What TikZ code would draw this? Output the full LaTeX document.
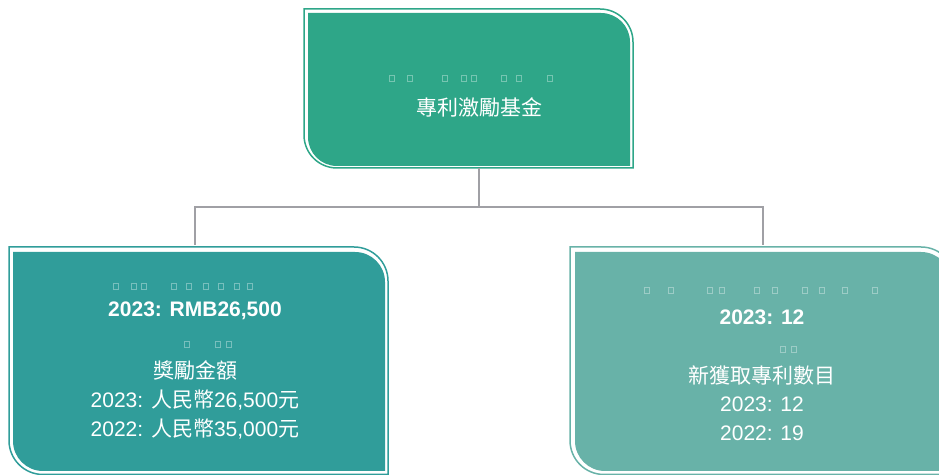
\documentclass[tikz,border=0pt]{standalone}
\usepackage{fontspec}
\setmainfont{Liberation Sans}
\newfontfamily\cjk{Noto Sans CJK TC}
\definecolor{topc}{HTML}{2EA688}
\definecolor{leftc}{HTML}{309D9A}
\definecolor{rightc}{HTML}{68B2A8}
\definecolor{connc}{HTML}{A0A0A5}
\begin{document}
\begin{tikzpicture}[x=1bp,y=1bp,
  outl/.style={line width=1.5bp},
  conn/.style={draw=connc, line width=2.7bp},
  txt/.style={text=white, font=\fontsize{21bp}{24bp}\selectfont, inner sep=0pt, anchor=center},
  btxt/.style={text=white, font=\fontsize{21bp}{24bp}\selectfont\bfseries, inner sep=0pt, anchor=center},
  tofu/.style={draw=white, draw opacity=0.35, line width=0.75bp}]
\useasboundingbox (0,0) rectangle (939,475);
% top box
\draw[outl, draw=topc] (304,466) -- (600,466) arc[start angle=90,end angle=0,radius=33] -- (633,307) -- (337,307) arc[start angle=270,end angle=180,radius=33] -- cycle;
\fill[topc] (308,462) -- (601,462) arc[start angle=90,end angle=0,radius=29] -- (630,309) -- (337,309) arc[start angle=270,end angle=180,radius=29] -- cycle;
% left box
\draw[outl, draw=leftc] (9,228) -- (354,228) arc[start angle=90,end angle=0,radius=34] -- (388,0.5) -- (43,0.5) arc[start angle=270,end angle=180,radius=34] -- cycle;
\fill[leftc] (13,223) -- (355,223) arc[start angle=90,end angle=0,radius=30] -- (385,4) -- (43,4) arc[start angle=270,end angle=180,radius=30] -- cycle;
% right box
\draw[outl, draw=rightc] (570,228) -- (921,228) arc[start angle=90,end angle=0,radius=34] -- (955,0.5) -- (604,0.5) arc[start angle=270,end angle=180,radius=34] -- cycle;
\fill[rightc] (575,223) -- (921,223) arc[start angle=90,end angle=0,radius=30] -- (951,4) -- (605,4) arc[start angle=270,end angle=180,radius=30] -- cycle;
% connectors
\coordinate (topb) at (479,307);
\coordinate (lefttop) at (195,230);
\coordinate (righttop) at (763,230);
\draw[conn] (topb) -- ++(0,-39) -| (lefttop);
\draw[conn] (topb) -- ++(0,-39) -| (righttop);
% faint missing-glyph boxes
\foreach \x in {392,410,445,464,474,504,519,550} \draw[tofu] ({\x-2.5},394) rectangle ++(5,6);
\foreach \x in {116,134,144,174,189,206,221,237,250} \draw[tofu] ({\x-2.5},186) rectangle ++(5,6);
\foreach \x in {187,218,229} \draw[tofu] ({\x-2.5},128) rectangle ++(5,6);
\foreach \x in {647,671,710,722,757,775,805,822,845,875} \draw[tofu] ({\x-2.5},182) rectangle ++(5,6);
\foreach \x in {783,794} \draw[tofu] ({\x-2.5},123) rectangle ++(5,6);
% texts
\node[txt] (title) at (479,368) {\cjk 專利激勵基金};
\node[btxt] (lbold) at (195,164) {2023: RMB26,500};
\node[txt] (lhead) at (195,105) {\cjk 獎勵金額};
\node[txt] (l2023) at (195,75) {2023: {\cjk 人民幣}26,500{\cjk 元}};
\node[txt] (l2022) at (195,46) {2022: {\cjk 人民幣}35,000{\cjk 元}};
\node[btxt] (rbold) at (762,158) {2023: 12};
\node[txt] (rhead) at (762,100) {\cjk 新獲取專利數目};
\node[txt] (r2023) at (762,71) {2023: 12};
\node[txt] (r2022) at (762,42) {2022: 19};
\end{tikzpicture}
\end{document}
